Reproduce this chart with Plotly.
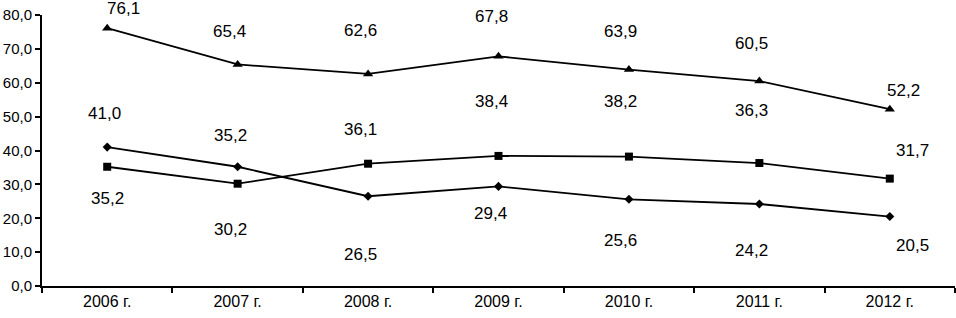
import plotly.graph_objects as go

years = ["2006 г.", "2007 г.", "2008 г.", "2009 г.", "2010 г.", "2011 г.", "2012 г."]
tri = [76.1, 65.4, 62.6, 67.8, 63.9, 60.5, 52.2]
dia = [41.0, 35.2, 26.5, 29.4, 25.6, 24.2, 20.5]
sqr = [35.2, 30.2, 36.1, 38.4, 38.2, 36.3, 31.7]

# label pixel offsets (dx, dy) relative to each point
tri_off = [(16, 20), (-8, 33), (-8, 43), (-7, 40), (-8, 38), (-8, 38), (14, 19)]
dia_off = [(-3, 34), (-7, 31), (-8, -58), (-8, -27), (-8, -41), (-8, -46), (23, -29)]
sqr_off = [(0, -32), (-7, -46), (-8, 34), (-7, 54), (-8, 55), (-8, 53), (23, 28)]

FONT = "Liberation Sans, Arial, sans-serif"

fig = go.Figure()
for vals, sym, sz in [(tri, "triangle-up", 9), (sqr, "square", 8), (dia, "diamond", 7)]:
    fig.add_trace(go.Scatter(x=years, y=vals, mode="lines+markers",
                             line=dict(color="black", width=1.8),
                             marker=dict(symbol=sym, size=sz, color="black"),
                             showlegend=False, hoverinfo="skip"))

ann = []
for vals, offs in [(tri, tri_off), (dia, dia_off), (sqr, sqr_off)]:
    for x, v, (dx, dy) in zip(years, vals, offs):
        ann.append(dict(x=x, y=v, text=f"{v:.1f}".replace(".", ","), showarrow=False,
                        xshift=dx, yshift=dy,
                        font=dict(size=17, color="black", family=FONT)))

fig.update_layout(
    width=956, height=318,
    margin=dict(l=42, r=1, t=15, b=32),
    paper_bgcolor="white", plot_bgcolor="white",
    separators=", ",
    annotations=ann,
    font=dict(family=FONT, color="black"),
    xaxis=dict(type="category", showline=True, linecolor="black", linewidth=2,
               ticks="outside", tickson="boundaries", ticklen=5, tickwidth=2,
               tickcolor="black", showgrid=False, tickfont=dict(size=16),
               range=[-0.5, 6.5]),
    yaxis=dict(range=[0, 80], dtick=10, tickformat=".1f", showline=True,
               linecolor="black", linewidth=2, ticks="outside", ticklen=5,
               tickwidth=2, tickcolor="black", showgrid=False, zeroline=False,
               tickfont=dict(size=15)),
)
fig.write_html("out.html", config={"displayModeBar": False},
               post_script="document.body.style.margin='0';")
